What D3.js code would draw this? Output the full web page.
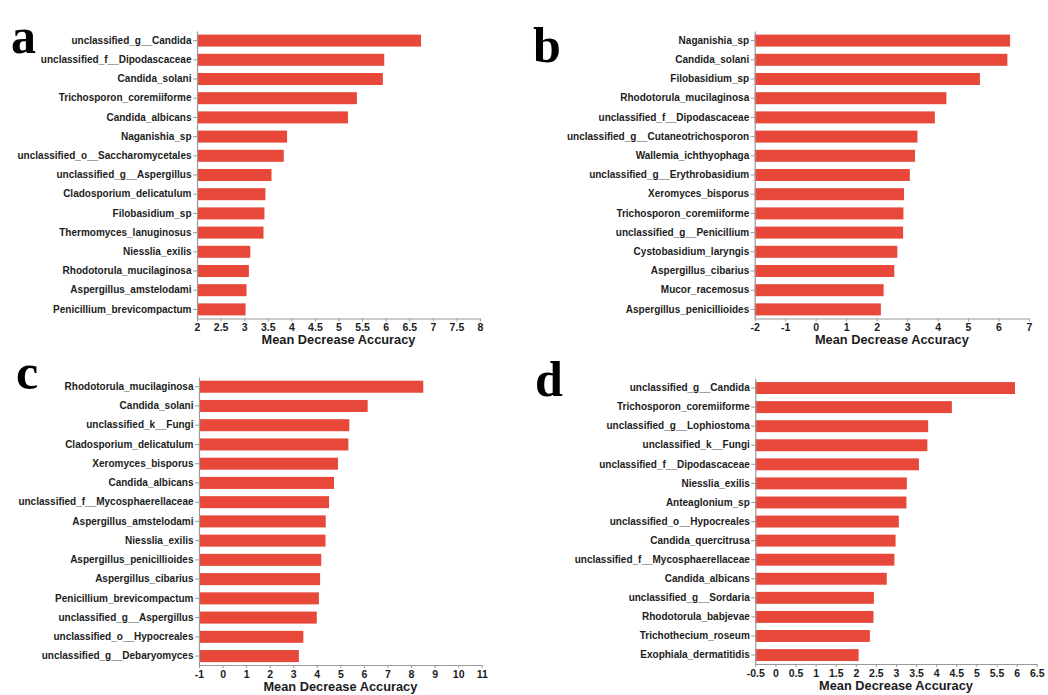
<!DOCTYPE html>
<html>
<head>
<meta charset="utf-8">
<script src="https://cdn.jsdelivr.net/npm/d3@7"></script>
<style>
  html, body { margin: 0; padding: 0; background: #ffffff; }
  svg { display: block; }
</style>
</head>
<body>
<svg id="chart" width="1048" height="695"></svg>
<script>
// ---------- DATA ----------
const catsA = ["unclassified_g__Candida","unclassified_f__Dipodascaceae","Candida_solani","Trichosporon_coremiiforme","Candida_albicans","Naganishia_sp","unclassified_o__Saccharomycetales","unclassified_g__Aspergillus","Cladosporium_delicatulum","Filobasidium_sp","Thermomyces_lanuginosus","Niesslia_exilis","Rhodotorula_mucilaginosa","Aspergillus_amstelodami","Penicillium_brevicompactum"];
const valsA = [6.75, 5.97, 5.94, 5.39, 5.20, 3.91, 3.84, 3.58, 3.45, 3.43, 3.41, 3.13, 3.10, 3.05, 3.03];
const ticksA = [2, 2.5, 3, 3.5, 4, 4.5, 5, 5.5, 6, 6.5, 7, 7.5, 8];

const catsB = ["Naganishia_sp","Candida_solani","Filobasidium_sp","Rhodotorula_mucilaginosa","unclassified_f__Dipodascaceae","unclassified_g__Cutaneotrichosporon","Wallemia_ichthyophaga","unclassified_g__Erythrobasidium","Xeromyces_bisporus","Trichosporon_coremiiforme","unclassified_g__Penicillium","Cystobasidium_laryngis","Aspergillus_cibarius","Mucor_racemosus","Aspergillus_penicillioides"];
const valsB = [6.38, 6.29, 5.39, 4.29, 3.91, 3.34, 3.26, 3.09, 2.90, 2.88, 2.87, 2.68, 2.58, 2.23, 2.14];
const ticksB = [-2, -1, 0, 1, 2, 3, 4, 5, 6, 7];

const catsC = ["Rhodotorula_mucilaginosa","Candida_solani","unclassified_k__Fungi","Cladosporium_delicatulum","Xeromyces_bisporus","Candida_albicans","unclassified_f__Mycosphaerellaceae","Aspergillus_amstelodami","Niesslia_exilis","Aspergillus_penicillioides","Aspergillus_cibarius","Penicillium_brevicompactum","unclassified_g__Aspergillus","unclassified_o__Hypocreales","unclassified_g__Debaryomyces"];
const valsC = [8.52, 6.16, 5.38, 5.34, 4.90, 4.73, 4.52, 4.38, 4.37, 4.19, 4.14, 4.09, 4.00, 3.43, 3.24];
const ticksC = [-1, 0, 1, 2, 3, 4, 5, 6, 7, 8, 9, 10, 11];

const catsD = ["unclassified_g__Candida","Trichosporon_coremiiforme","unclassified_g__Lophiostoma","unclassified_k__Fungi","unclassified_f__Dipodascaceae","Niesslia_exilis","Anteaglonium_sp","unclassified_o__Hypocreales","Candida_quercitrusa","unclassified_f__Mycosphaerellaceae","Candida_albicans","unclassified_g__Sordaria","Rhodotorula_babjevae","Trichothecium_roseum","Exophiala_dermatitidis"];
const valsD = [5.96, 4.39, 3.80, 3.78, 3.57, 3.27, 3.26, 3.07, 2.99, 2.96, 2.77, 2.45, 2.44, 2.35, 2.07];
const ticksD = [-0.5, 0, 0.5, 1, 1.5, 2, 2.5, 3, 3.5, 4, 4.5, 5, 5.5, 6, 6.5];

const panelLetters = ["a", "b", "c", "d"];
const axisTitle = "Mean Decrease Accuracy";

// ---------- LAYOUT ----------
const svg = d3.select("#chart");
const barColor = "#e8483a";
const axisColor = "#9a9a9a";
const textColor = "#1c1c1c";

const panels = [
  { letter: panelLetters[0], cats: catsA, vals: valsA, ticks: ticksA,
    x0: 197, x1: 480, y0: 31, y1: 319, axisY: 318.5, lx: 11, ly: 53 },
  { letter: panelLetters[1], cats: catsB, vals: valsB, ticks: ticksB,
    x0: 754.7, x1: 1029, y0: 31, y1: 319, axisY: 318.5, lx: 533, ly: 62 },
  { letter: panelLetters[2], cats: catsC, vals: valsC, ticks: ticksC,
    x0: 199, x1: 481.7, y0: 377.1, y1: 665.7, axisY: 665, lx: 16, ly: 389 },
  { letter: panelLetters[3], cats: catsD, vals: valsD, ticks: ticksD,
    x0: 755.3, x1: 1036.7, y0: 378.5, y1: 664.6, axisY: 664, lx: 535, ly: 396 }
];

const fmt = v => String(v);

panels.forEach(p => {
  const g = svg.append("g");
  const dom = [p.ticks[0], p.ticks[p.ticks.length - 1]];
  const x = d3.scaleLinear().domain(dom).range([p.x0, p.x1]);
  const y = d3.scaleBand().domain(p.cats).range([p.y0, p.y1]).paddingInner(0.375).paddingOuter(0.1875);

  // bars
  g.selectAll("rect.bar")
    .data(p.cats.map((c, i) => ({ c, v: p.vals[i] })))
    .join("rect")
    .attr("class", "bar")
    .attr("x", x(dom[0]))
    .attr("y", d => y(d.c))
    .attr("width", d => x(d.v) - x(dom[0]))
    .attr("height", y.bandwidth())
    .attr("fill", barColor);

  // y axis
  const yAxis = g.append("g")
    .attr("transform", `translate(${p.x0},0)`)
    .call(d3.axisLeft(y).tickSize(4).tickSizeOuter(0).tickPadding(1.5));
  yAxis.select(".domain").attr("stroke", axisColor).attr("stroke-width", 1.2);
  yAxis.selectAll(".tick line").attr("stroke", axisColor);
  yAxis.selectAll("text")
    .attr("fill", textColor)
    .style("font-family", "'Liberation Sans', Arial, sans-serif")
    .style("font-weight", "bold")
    .style("font-size", "10px");

  // x axis
  const xAxis = g.append("g")
    .attr("transform", `translate(0,${p.axisY})`)
    .call(d3.axisBottom(x).tickValues(p.ticks).tickFormat(fmt).tickSize(3).tickSizeOuter(0).tickPadding(2.5));
  xAxis.select(".domain").attr("stroke", axisColor).attr("stroke-width", 1.2);
  xAxis.selectAll(".tick line").attr("stroke", axisColor);
  xAxis.selectAll("text")
    .attr("fill", textColor)
    .style("font-family", "'Liberation Sans', Arial, sans-serif")
    .style("font-weight", "bold")
    .style("font-size", "10.5px");

  // axis title
  g.append("text")
    .attr("x", (p.x0 + p.x1) / 2)
    .attr("y", p.axisY + 25.5)
    .attr("text-anchor", "middle")
    .attr("fill", textColor)
    .style("font-family", "'Liberation Sans', Arial, sans-serif")
    .style("font-weight", "bold")
    .style("font-size", "12.8px")
    .text(axisTitle);

  // panel letter
  g.append("text")
    .attr("x", p.lx)
    .attr("y", p.ly)
    .attr("fill", "#000")
    .style("font-family", "'Liberation Serif', 'Times New Roman', serif")
    .style("font-weight", "bold")
    .style("font-size", "50px")
    .text(p.letter);
});
</script>
</body>
</html>
